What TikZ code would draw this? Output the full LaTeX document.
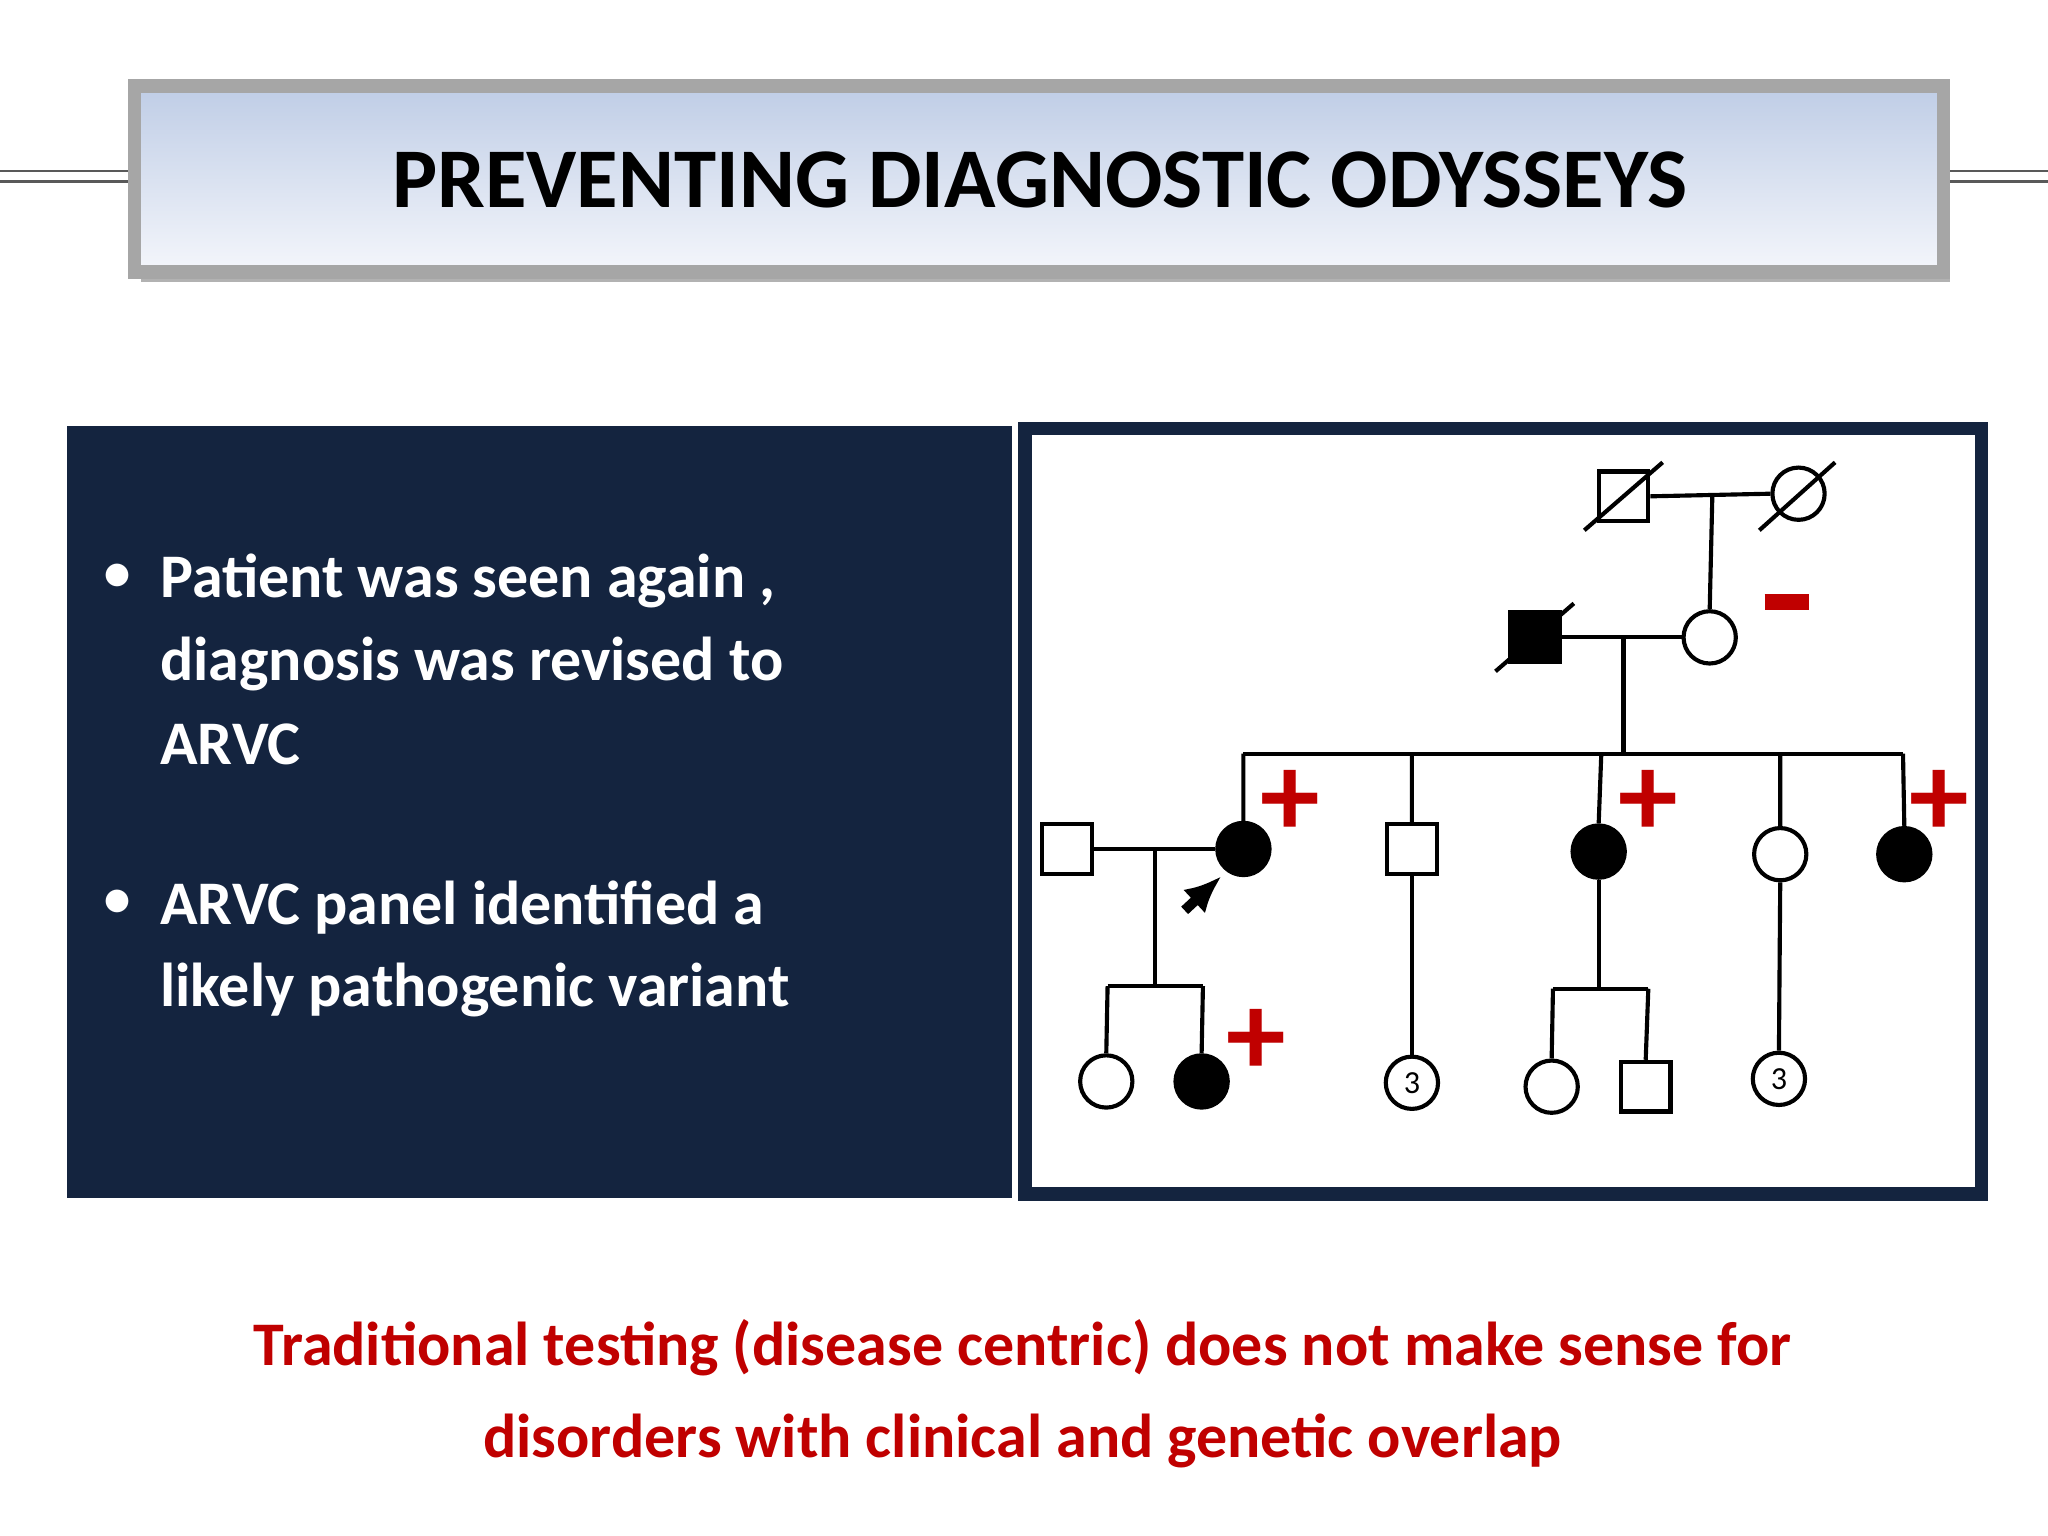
\documentclass[tikz,border=0pt]{standalone}
\usepackage{fontspec}
\setmainfont{Carlito}
\usetikzlibrary{shadows,arrows.meta}
\definecolor{navy}{HTML}{14243F}
\definecolor{dred}{HTML}{C00000}
\definecolor{tbluetop}{HTML}{BFCDE6}
\definecolor{tbluebot}{HTML}{F4F6FB}
\tikzset{
  px/.style={x=0.01cm,y=-0.01cm},
  ped/.style={draw=black,line width=0.9pt},
  sq/.style={ped,fill=white,minimum size=0.38cm,inner sep=0pt,rectangle},
  ci/.style={ped,fill=white,minimum size=0.40cm,inner sep=0pt,circle},
  aff/.style={fill=black},
  mk/.style={text=dred,font=\bfseries\fontsize{26}{26}\selectfont,inner sep=0pt},
  bul/.style={text=white,font=\bfseries\fontsize{13.5}{18}\selectfont,anchor=west,inner sep=0pt},
}
\begin{document}
\begin{tikzpicture}[px]
\useasboundingbox (0,0) rectangle (1568,1176);
\fill[white] (0,0) rectangle (1568,1176);
% side double lines
\draw[gray!70!black,line width=0.6pt] (0,131)--(103,131) (0,139)--(103,139) (1488,131)--(1568,131) (1488,139)--(1568,139);
% title box
\fill[gray!60] (108,72) rectangle (1493,216);
\shade[top color=tbluetop,bottom color=tbluebot,draw=gray!70,line width=3pt] (103,66) rectangle (1488,208);
\node[font=\bfseries\fontsize{18.5}{20}\selectfont] (title) at (796,138) {PREVENTING DIAGNOSTIC ODYSSEYS};
% dark box
\fill[navy] (51,326) rectangle (775,917);
\node[text=white,font=\fontsize{14}{14}\selectfont] (b1) at (90,443) {•};
\node[bul] (t1) at (122,445) {Patient was seen again ,};
\node[bul] (t2) at (122,508) {diagnosis was revised to};
\node[bul] (t3) at (122,570) {ARVC};
\node[text=white,font=\fontsize{14}{14}\selectfont] (b2) at (90,693) {•};
\node[bul] (t4) at (122,695) {ARVC panel identified a};
\node[bul] (t5) at (122,758) {likely pathogenic variant};
% pedigree box
\draw[navy,line width=3pt,fill=white] (785,328) rectangle (1517,914);
% gen I
\node[sq] (g1) at (1243,380) {};
\node[ci] (g2) at (1377,378) {};
\draw[ped] (1213,406)--(1273,354) (1347,406)--(1405,354);
\draw[ped] (g1.east)--(g2.west);
\coordinate (m1) at (1311,380);
% gen II
\node[sq,aff] (f) at (1175,488) {};
\node[ci] (m) at (1309,488) {};
\draw[ped] (1145,514)--(1205,462);
\draw[ped] (f.east)--(m.west);
\draw[ped] (m1)--(m.north);
\draw[dred,line width=3.5pt] (1351,461)--(1385,461);
\coordinate (m2) at (1243,488);
\coordinate (s1) at (1243,577);
\draw[ped] (m2)--(s1);
\draw[ped] (952,577)--(1457,577);
% gen III
\node[ci,aff] (c1) at (952,650) {};
\node[sq] (c2) at (1081,650) {};
\node[ci,aff] (c3) at (1224,652) {};
\node[ci] (c4) at (1363,654) {};
\node[ci,aff] (c5) at (1458,654) {};
\draw[ped] (952,577)--(c1.north) (1081,577)--(c2.north) (1226,577)--(c3.north) (1363,577)--(c4.north) (1457,577)--(c5.north);
\node[mk] (p1) at (988,615) {+};
\node[mk] (p2) at (1262,615) {+};
\node[mk] (p3) at (1485,615) {+};
\node[sq] (sp) at (817,650) {};
\draw[ped] (sp.east)--(c1.west);
\coordinate (a0) at (907,697);
\coordinate (a1) at (935,671);
\draw[-{Latex[length=8pt,width=7pt]},line width=2.2pt] (a0)--(a1);
% gen IV
\draw[ped] (884,650)--(884,755) (848,755)--(921,755);
\node[ci] (d1) at (847,828) {};
\node[ci,aff] (d2) at (920,828) {};
\draw[ped] (848,755)--(d1.north) (921,755)--(d2.north);
\node[mk] (p4) at (962,798) {+};
\node[ci,font=\fontsize{7}{7}\selectfont] (d3) at (1081,829) {3};
\draw[ped] (c2.south)--(d3.north);
\draw[ped] (c3.south)--(1224,757) (1189,757)--(1262,757);
\node[ci] (d4) at (1188,832) {};
\node[sq] (d5) at (1260,832) {};
\draw[ped] (1189,757)--(d4.north) (1262,757)--(d5.north);
\node[ci,font=\fontsize{7}{7}\selectfont] (d6) at (1362,826) {3};
\draw[ped] (c4.south)--(d6.north);
% bottom text
\node[text=dred,font=\bfseries\fontsize{13.5}{18}\selectfont,align=center] (foot) at (783,1067) {Traditional testing (disease centric) does not make sense for\\[2pt]disorders with clinical and genetic overlap};
\end{tikzpicture}
\end{document}
